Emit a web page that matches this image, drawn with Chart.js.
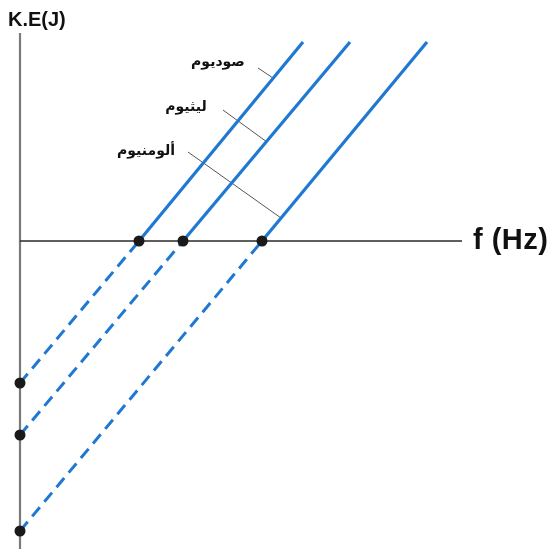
<!DOCTYPE html>
<html>
<head>
<meta charset="utf-8">
<script src="https://cdn.jsdelivr.net/npm/chart.js@4"></script>
<style>
  html, body { margin: 0; padding: 0; background: #fff; }
  #wrap { width: 554px; height: 549px; position: relative; }
</style>
</head>
<body>
<div id="wrap"><canvas id="keChart"></canvas></div>
<script>
// values (1 unit = one grid step of the sketch)
const metals = ['صوديوم', 'ليثيوم', 'ألومنيوم'];
const thresholdFreq = [5.95, 8.15, 12.1];     // f0 where K.E = 0
const keIntercept = [-7.1, -9.7, -14.5];      // K.E at f = 0 (dashed end)
const topFreq = [14.15, 16.5, 20.35];         // f at the top of each solid line
const topKE = 9.95;

// axis extents
const xAxisEnd = 22.1;
const yAxisTop = 10.4;
const yAxisBottom = -15.4;

// label anchor + leader line for every metal
const labelAt = [[9.9, 8.95], [8.3, 6.7], [6.3, 4.5]];
const leaderFrom = [[11.9, 8.65], [10.15, 6.55], [8.4, 4.45]];
const leaderTo = [[12.65, 8.15], [12.35, 4.95], [13.05, 1.15]];

const blue = '#1f78d1';

const datasets = [];

// axes
datasets.push({
    data: [{x: 0, y: yAxisTop}, {x: 0, y: yAxisBottom}],
    showLine: true, borderColor: '#7a7a7a', borderWidth: 2.2, pointRadius: 0, order: 4
});
datasets.push({
    data: [{x: 0, y: 0}, {x: xAxisEnd, y: 0}],
    showLine: true, borderColor: '#2a2a2a', borderWidth: 1.5, pointRadius: 0, order: 3
});

metals.forEach((m, i) => {
    // solid part above the f axis
    datasets.push({
        data: [{x: thresholdFreq[i], y: 0}, {x: topFreq[i], y: topKE}],
        showLine: true, borderColor: blue, borderWidth: 3.2, pointRadius: 0, order: 1
    });
    // dashed extension down to the K.E axis
    datasets.push({
        data: [{x: 0, y: keIntercept[i]}, {x: thresholdFreq[i], y: 0}],
        showLine: true, borderColor: blue, borderWidth: 3, borderDash: [12, 7],
        pointRadius: 0, order: 1
    });
    // leader line to the label
    datasets.push({
        data: [{x: leaderFrom[i][0], y: leaderFrom[i][1]}, {x: leaderTo[i][0], y: leaderTo[i][1]}],
        showLine: true, borderColor: '#555', borderWidth: 1, pointRadius: 0, order: 2
    });
});

// black dots on both axes
datasets.push({
    data: thresholdFreq.map(f => ({x: f, y: 0})).concat(keIntercept.map(k => ({x: 0, y: k}))),
    showLine: false, pointRadius: 5.5, pointBackgroundColor: '#1a1a1a',
    pointBorderColor: '#1a1a1a', pointBorderWidth: 0, order: 0
});

const textPlugin = {
    id: 'texts',
    afterDatasetsDraw(chart) {
        const ctx = chart.ctx;
        const xs = chart.scales.x, ys = chart.scales.y;
        ctx.save();
        ctx.fillStyle = '#111';
        ctx.textBaseline = 'middle';

        ctx.font = 'bold 14px "DejaVu Sans"';
        ctx.textAlign = 'center';
        metals.forEach((m, i) => {
            ctx.fillText(m, xs.getPixelForValue(labelAt[i][0]), ys.getPixelForValue(labelAt[i][1]));
        });

        ctx.textAlign = 'left';
        ctx.font = 'bold 20px "Liberation Sans"';
        ctx.fillText('K.E(J)', xs.getPixelForValue(-0.6), ys.getPixelForValue(11.05));

        ctx.font = 'bold 29px "Liberation Sans"';
        ctx.letterSpacing = '0.5px';
        ctx.fillText('f (Hz)', xs.getPixelForValue(22.65), ys.getPixelForValue(0));
        ctx.restore();
    }
};

new Chart(document.getElementById('keChart'), {
    type: 'scatter',
    data: { datasets: datasets },
    options: {
        responsive: true,
        maintainAspectRatio: false,
        animation: false,
        layout: { padding: 0, autoPadding: false },
        plugins: { legend: { display: false }, tooltip: { enabled: false } },
        scales: {
            x: { type: 'linear', min: -1, max: 26.7, display: false },
            y: { type: 'linear', min: -15.4, max: 12.05, display: false }
        }
    },
    plugins: [textPlugin]
});
</script>
</body>
</html>
